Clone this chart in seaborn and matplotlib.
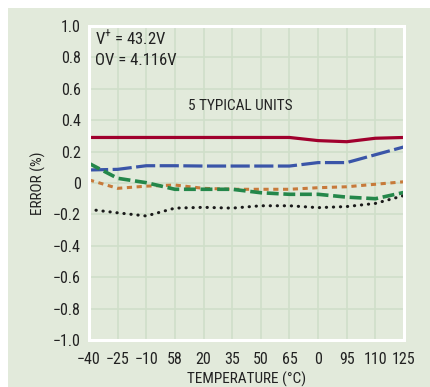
"""Error vs temperature chart, 5 typical units."""

import matplotlib.pyplot as plt
import numpy as np
import pandas as pd
import seaborn as sns
from matplotlib import font_manager
from matplotlib.patches import Rectangle

temp_labels = ["\u221240", "\u221225", "\u221210", "58", "20", "35", "50", "65", "0", "95", "110", "125"]
unit_red = [0.29, 0.29, 0.29, 0.29, 0.29, 0.29, 0.29, 0.29, 0.27, 0.263, 0.285, 0.29]
unit_blue = [0.083, 0.087, 0.11, 0.11, 0.108, 0.108, 0.108, 0.108, 0.13, 0.13, 0.18, 0.23]
unit_orange = [0.02, -0.034, -0.02, -0.013, -0.034, -0.04, -0.04, -0.04, -0.03, -0.024, -0.008, 0.008]
unit_green = [0.125, 0.03, 0.002, -0.04, -0.04, -0.04, -0.062, -0.072, -0.072, -0.09, -0.10, -0.06]
unit_black = [-0.168, -0.19, -0.21, -0.16, -0.155, -0.16, -0.145, -0.145, -0.157, -0.15, -0.13, -0.08]
y_ticks = [1.0, 0.8, 0.6, 0.4, 0.2, 0.0, -0.2, -0.4, -0.6, -0.8, -1.0]
y_labels = ["1.0", "0.8", "0.6", "0.4", "0.2", "0", "\u22120.2", "\u22120.4", "\u22120.6", "\u22120.8", "\u22121.0"]

BG = "#e2eadb"
GRID = "#cfdfc9"

sns.set_theme(style="white")


def pick_narrow_font():
    # look for a condensed sans face, fall back to Liberation Sans
    narrow = []
    for f in font_manager.fontManager.ttflist:
        if f.style != "normal" or f.weight not in (400, "normal", "regular"):
            continue
        st = f.stretch
        is_narrow = ("Narrow" in f.name or "Condensed" in f.name
                     or st in ("condensed", "semi-condensed", "extra-condensed")
                     or (isinstance(st, int) and st < 500))
        if is_narrow and "Mono" not in f.name and "Serif" not in f.name:
            narrow.append(f)
    for pref in ("Liberation Sans Narrow", "Roboto Condensed", "Noto Sans", "Open Sans", "DejaVu Sans"):
        for f in narrow:
            if f.name.startswith(pref):
                return f.name, f.stretch
    if narrow:
        return narrow[0].name, narrow[0].stretch
    return "Liberation Sans", "normal"


font_name, font_stretch = pick_narrow_font()
plt.rcParams["font.family"] = [font_name, "DejaVu Sans"]
plt.rcParams["font.stretch"] = font_stretch
plt.rcParams["mathtext.fontset"] = "custom"
plt.rcParams["mathtext.rm"] = font_name

fig = plt.figure(figsize=(4.3, 3.87), dpi=100, facecolor="white")
fig.patches.append(Rectangle((8 / 430, 0), 1, (387 - 8) / 387, transform=fig.transFigure,
                             facecolor=BG, edgecolor="none", zorder=-10))
ax = fig.add_axes([89 / 430, 1 - 340 / 387, (404 - 89) / 430, (340 - 26) / 387])
ax.set_facecolor(BG)

x = np.arange(len(temp_labels))
series = [
    (unit_red, "#a0002d", "-", 2.3),
    (unit_blue, "#3a55a8", (0, (6, 1.4)), 2.3),
    (unit_orange, "#c77a3a", (0, (1.7, 1.5)), 2.2),
    (unit_green, "#24874a", (0, (3.3, 1.3)), 2.6),
    (unit_black, "#1a1a1a", (0, (0.1, 2.2)), 2.2),
]
for vals, color, ls, lw in series:
    df = pd.DataFrame({"pos": x, "err": vals})
    cap = "round" if ls != "-" and ls[1][0] < 1 else "butt"
    sns.lineplot(data=df, x="pos", y="err", ax=ax, color=color, linestyle=ls,
                 linewidth=lw, dash_capstyle=cap)

ax.set_xlim(0, len(temp_labels) - 1)
ax.set_ylim(-1.0, 1.0)
ax.set_xticks(x)
ax.set_xticklabels(temp_labels)
ax.set_yticks(y_ticks)
ax.set_yticklabels(y_labels)
ax.tick_params(axis="both", length=0, labelsize=11.5, colors="#222222")
ax.tick_params(axis="x", pad=9)
ax.tick_params(axis="y", pad=6)
ax.grid(True, color=GRID, linewidth=1.2)
ax.set_axisbelow(True)
for spine in ax.spines.values():
    spine.set_color("white")
    spine.set_linewidth(2.2)

ax.set_xlabel("TEMPERATURE (\u00b0C)", fontsize=11, color="#222222", labelpad=3)
ax.set_ylabel("ERROR (%)", fontsize=11, color="#222222", labelpad=5)

ax.text(0.22, 0.875, "V$^{+}$ = 43.2V", fontsize=12, color="#222222", va="baseline")
ax.text(0.22, 0.752, "OV = 4.116V", fontsize=12, color="#222222", va="baseline")
ax.text(5.28, 0.465, "5 TYPICAL UNITS", fontsize=11, color="#222222", ha="center", va="baseline")

fig.savefig("out.png", dpi=100, facecolor="white")
plt.close(fig)
